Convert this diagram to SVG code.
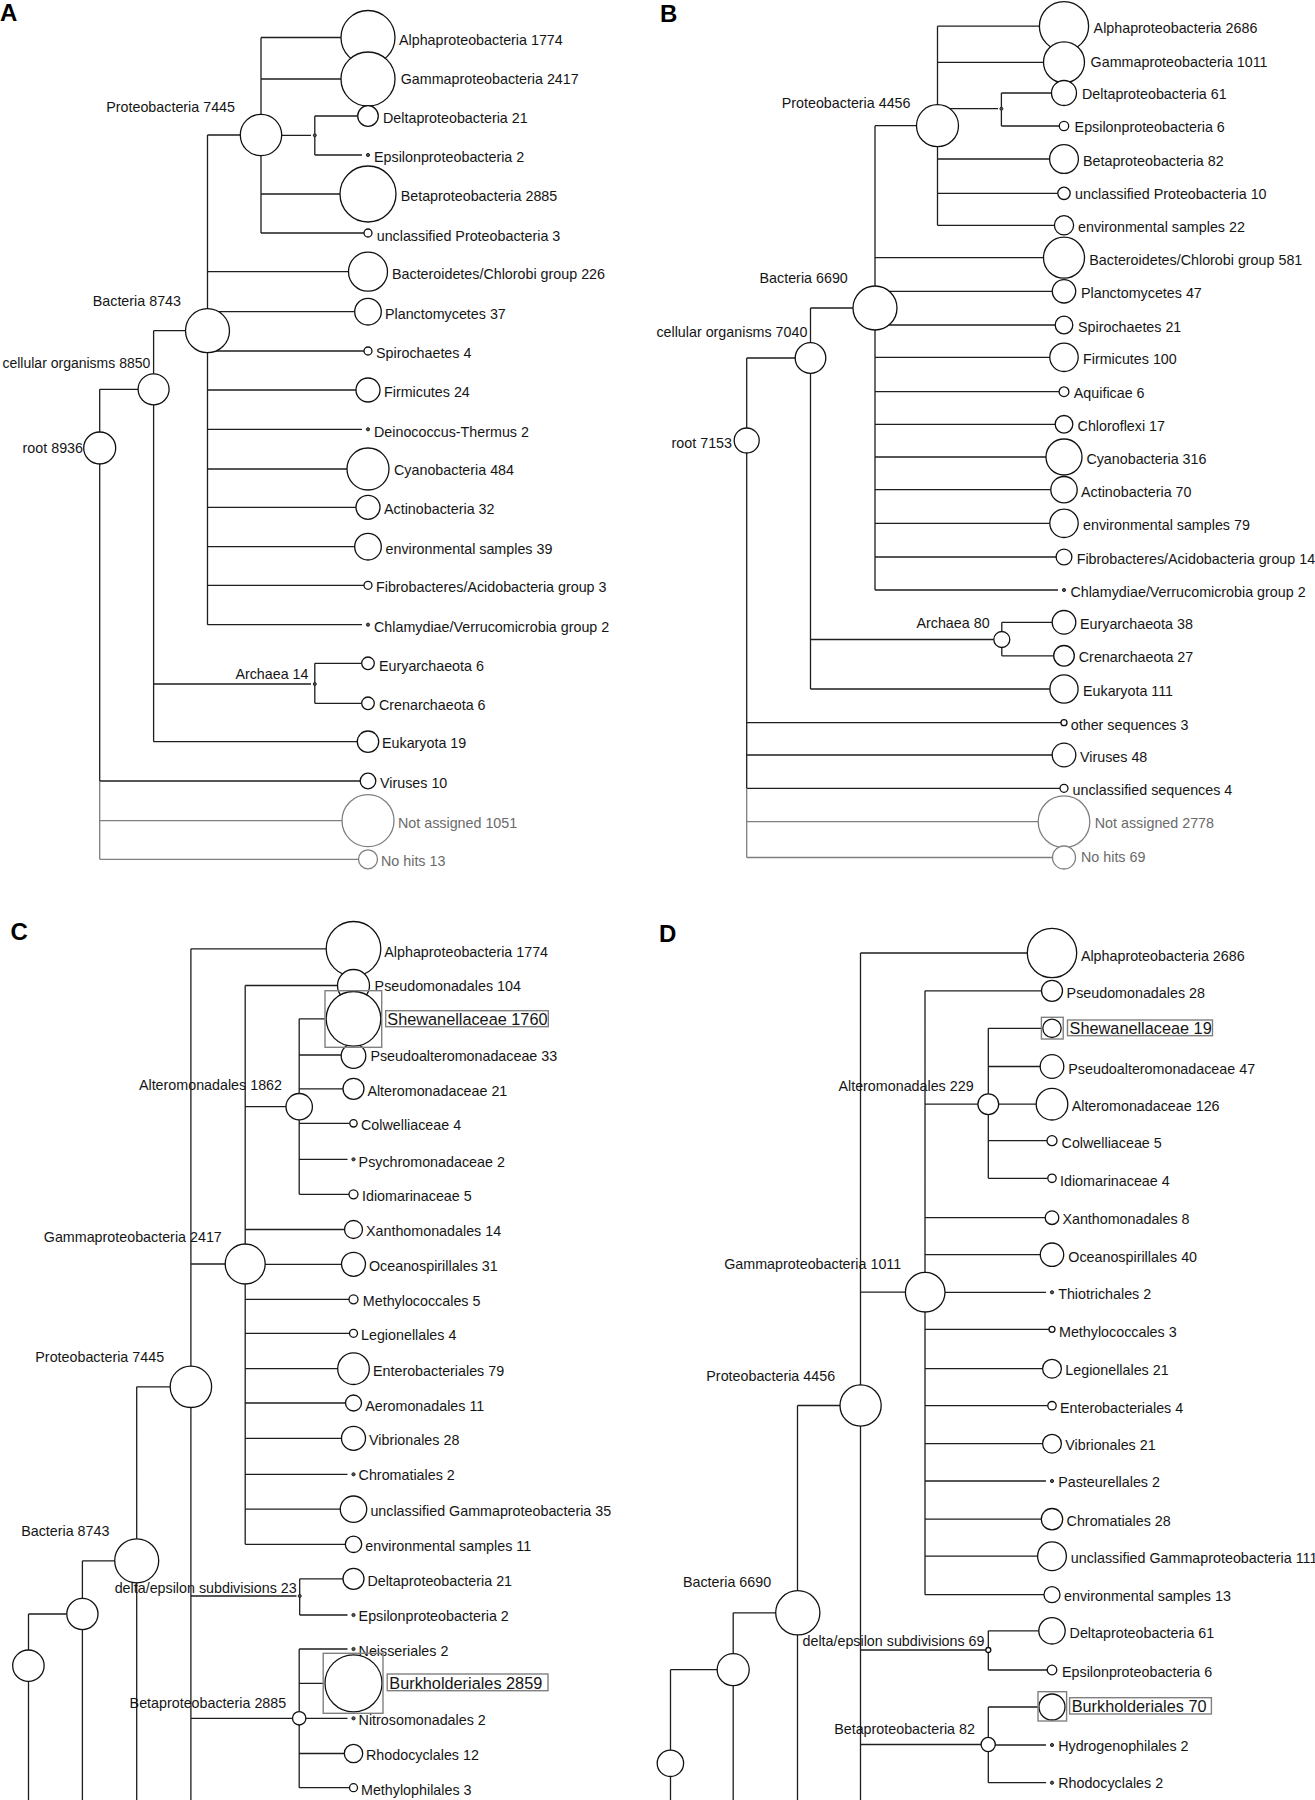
<svg xmlns="http://www.w3.org/2000/svg" width="1315" height="1800" viewBox="0 0 1315 1800">
<style>
.ln{fill:none;stroke:#1e1e1e;stroke-width:1.3}
.lg{fill:none;stroke:#7f7f7f;stroke-width:1.3}
circle{fill:#fff;stroke:#111;stroke-width:1.3}
circle.g{stroke:#7f7f7f}
circle.d{fill:#555;stroke:#222;stroke-width:1}
text{font-family:"Liberation Sans",Arial,sans-serif;font-size:14.3px;fill:#151515}
text.g{fill:#6a6a6a}
text.e{text-anchor:end}
text.s{font-size:14px}
text.big{font-size:16.3px}
text.p{font-size:24px;font-weight:bold;fill:#000}
rect.bx{fill:none;stroke:#808080;stroke-width:1.4}
</style>
<rect width="1315" height="1800" fill="#fff"/>
<g id="panel-labels">
<text class="p" x="0" y="21">A</text>
<text class="p" x="660" y="21.5">B</text>
<text class="p" x="10.5" y="940">C</text>
<text class="p" x="659" y="941.5">D</text>
</g>
<g id="connectors">
<path class="ln" d="M261,37.5V233 M261,37.5H341 M261,79H341 M261,194H340 M261,233H364 M261,135.3H311 M314.8,116V155 M314.8,116H357.7 M314.8,155H362 M207.5,135V624.7 M207.5,135H240.3 M207.5,271.7H348.5 M207.5,311.7H354.7 M207.5,351H364 M207.5,390H356 M207.5,429.3H362 M207.5,469H347 M207.5,507.3H356 M207.5,546.7H354.7 M207.5,585.3H364 M207.5,624.7H362 M153.6,330.7V741.7 M153.6,330.7H185.5 M153.6,684H311 M153.6,741.7H357.3 M314.8,663.3V703.3 M314.8,663.3H361.7 M314.8,703.3H361.7 M99.7,389.3V781 M99.7,389.3H138.1 M99.7,781H360.2"/>
<path class="lg" d="M99.7,781V859.3 M99.7,820.7H342 M99.7,859.3H358.5"/>
<path class="ln" d="M937.5,26.2V225.3 M937.5,26.2H1039.4 M937.5,62.3H1043.5 M937.5,159H1049.6 M937.5,193.3H1057.8 M937.5,225.3H1054.4 M937.5,108.7H998 M1001.4,93V126 M1001.4,93H1051.5 M1001.4,126H1059.3 M875,125.7V590 M875,125.7H916.5 M875,257.7H1043.5 M875,291.3H1052.3 M875,325H1055.2 M875,357.3H1049.8 M875,391.7H1059.1 M875,424.3H1055.2 M875,457H1046 M875,489.7H1050.8 M875,523.3H1049.8 M875,557H1056.1 M875,590H1058 M810.5,308V689 M810.5,308H853 M810.5,639.5H993.8 M810.5,689H1049.9 M1001.8,622.3V655.8 M1001.8,622.3H1052.2 M1001.8,655.8H1053.7 M746.7,358V788.3 M746.7,358H795.2 M746.7,722.7H1061 M746.7,755H1052.2 M746.7,788.3H1060"/>
<path class="lg" d="M746.7,788.3V857.5 M746.7,821.7H1038.2 M746.7,857.5H1052.5"/>
<path class="ln" d="M190.9,948.8V1800 M190.9,948.8H326.2 M190.9,1264H225.2 M190.9,1596H296.5 M190.9,1718.3H292.5 M245.2,985.5V1544.3 M245.2,985.5H337.5 M245.2,1106.7H286 M245.2,1229.5H344.5 M245.2,1264.3H341.5 M245.2,1299.3H349 M245.2,1333.3H349.5 M245.2,1368.7H337.7 M245.2,1403H345.5 M245.2,1438.3H341.5 M245.2,1474.3H347.5 M245.2,1509.2H340.3 M245.2,1544.3H345.3 M299.2,1018.8V1194.3 M299.2,1018.8H325 M299.2,1055H341 M299.2,1088.8H343 M299.2,1123.3H349.8 M299.2,1159.3H347.5 M299.2,1194.3H349 M299.7,1578.8V1615 M299.7,1578.8H343 M299.7,1615H347.5 M299.2,1649V1787.7 M299.2,1649H347.5 M299.2,1683.3H323.2 M299.2,1718.3H347.5 M299.2,1753.5H344.3 M299.2,1787.7H349.5 M136.7,1386.8V1800 M136.7,1386.8H170.4 M82.4,1560.8V1800 M82.4,1560.8H114.6 M28.5,1614V1800 M28.5,1614H66.7"/>
<path class="ln" d="M860.5,953V1800 M860.5,953H1027.3 M860.5,1292.2H905.4 M860.5,1650H985.8 M860.5,1744.5H981.1 M925,990.8V1594.7 M925,990.8H1041.5 M925,1104.2H977.9 M925,1217.7H1045.2 M925,1254.7H1040.3 M925,1292.3H1046 M925,1329.3H1049 M925,1368.7H1042.6 M925,1405.7H1047.8 M925,1443.7H1042.6 M925,1481H1046 M925,1519.2H1041.3 M925,1556.2H1037.6 M925,1594.7H1044 M988.3,1028.3V1178.3 M988.3,1028.3H1041.4 M988.3,1066.5H1040.2 M988.3,1104.2H1036.2 M988.3,1140.7H1047 M988.3,1178.3H1047.8 M988.3,1630.8V1670 M988.3,1630.8H1038.8 M988.3,1670H1047.2 M988.3,1707V1782.7 M988.3,1707H1038 M988.3,1745H1046 M988.3,1782.7H1046 M797.5,1405.5V1800 M797.5,1405.5H840 M733.2,1612.8V1800 M733.2,1612.8H775.7 M670.5,1669.7V1800 M670.5,1669.7H717.2"/>
</g>
<g id="panel-a">
<g id="a-root"><circle cx="99.7" cy="448" r="16"/><text class="e" x="83" y="453">root 8936</text></g>
<g id="a-cellular"><circle cx="153.6" cy="389.3" r="15.5"/><text class="e s" x="150.3" y="368.3">cellular organisms 8850</text></g>
<g id="a-bacteria"><circle cx="207.5" cy="330.7" r="22"/><text class="e" x="181" y="306">Bacteria 8743</text></g>
<g id="a-proteo"><circle cx="261" cy="135" r="20.7"/><text class="e" x="235" y="111.7">Proteobacteria 7445</text></g>
<g id="a-deltaeps"><circle class="d" cx="314.8" cy="135.3" r="1.5"/></g>
<g id="a-archaea"><circle class="d" cx="314.8" cy="684" r="1.5"/><text class="e" x="308.5" y="679.3">Archaea 14</text></g>
<g id="a-alpha"><circle cx="368" cy="37.5" r="27"/><text x="399" y="45">Alphaproteobacteria 1774</text></g>
<g id="a-gamma"><circle cx="368" cy="79" r="27"/><text x="400.7" y="84">Gammaproteobacteria 2417</text></g>
<g id="a-delta"><circle cx="368" cy="116" r="10.3"/><text x="383" y="122.7">Deltaproteobacteria 21</text></g>
<g id="a-epsilon"><circle class="d" cx="368" cy="155" r="1.6"/><text x="374" y="162.3">Epsilonproteobacteria 2</text></g>
<g id="a-beta"><circle cx="368" cy="194" r="28"/><text x="400.7" y="201">Betaproteobacteria 2885</text></g>
<g id="a-unclproteo"><circle cx="368" cy="233" r="4"/><text x="376.7" y="240.7">unclassified Proteobacteria 3</text></g>
<g id="a-bactero"><circle cx="368" cy="271.7" r="19.5"/><text x="392" y="279">Bacteroidetes/Chlorobi group 226</text></g>
<g id="a-plancto"><circle cx="368" cy="311.7" r="13.3"/><text x="385" y="318.7">Planctomycetes 37</text></g>
<g id="a-spiro"><circle cx="368" cy="351" r="4"/><text x="376" y="357.7">Spirochaetes 4</text></g>
<g id="a-firmi"><circle cx="368" cy="390" r="12"/><text x="384" y="396.7">Firmicutes 24</text></g>
<g id="a-deino"><circle class="d" cx="368" cy="429.3" r="1.6"/><text x="374" y="436.7">Deinococcus-Thermus 2</text></g>
<g id="a-cyano"><circle cx="368" cy="469" r="21"/><text x="394" y="475">Cyanobacteria 484</text></g>
<g id="a-actino"><circle cx="368" cy="507.3" r="12"/><text x="384" y="514.3">Actinobacteria 32</text></g>
<g id="a-env"><circle cx="368" cy="546.7" r="13.3"/><text x="385.5" y="554">environmental samples 39</text></g>
<g id="a-fibro"><circle cx="368" cy="585.3" r="4"/><text x="376" y="592.3">Fibrobacteres/Acidobacteria group 3</text></g>
<g id="a-chlamy"><circle class="d" cx="368" cy="624.7" r="1.6"/><text x="374" y="632">Chlamydiae/Verrucomicrobia group 2</text></g>
<g id="a-eury"><circle cx="368" cy="663.3" r="6.3"/><text x="379" y="670.7">Euryarchaeota 6</text></g>
<g id="a-cren"><circle cx="368" cy="703.3" r="6.3"/><text x="379" y="710">Crenarchaeota 6</text></g>
<g id="a-euk"><circle cx="368" cy="741.7" r="10.7"/><text x="382" y="748.3">Eukaryota 19</text></g>
<g id="a-viruses"><circle cx="368" cy="781" r="7.8"/><text x="380" y="787.7">Viruses 10</text></g>
<g id="a-notassigned"><circle class="g" cx="368" cy="820.7" r="26"/><text class="g" x="398" y="827.7">Not assigned 1051</text></g>
<g id="a-nohits"><circle class="g" cx="368" cy="859.3" r="9.5"/><text class="g" x="381" y="866">No hits 13</text></g>
</g>
<g id="panel-b">
<g id="b-root"><circle cx="746.7" cy="440.5" r="12.5"/><text class="e" x="732" y="448.3">root 7153</text></g>
<g id="b-cellular"><circle cx="810.5" cy="358" r="15.3"/><text class="e" x="807.4" y="337.3">cellular organisms 7040</text></g>
<g id="b-bacteria"><circle cx="875" cy="308" r="22"/><text class="e" x="847.8" y="282.7">Bacteria 6690</text></g>
<g id="b-proteo"><circle cx="937.5" cy="125.7" r="21"/><text class="e" x="910.5" y="108.3">Proteobacteria 4456</text></g>
<g id="b-deltaeps"><circle class="d" cx="1001.4" cy="108.7" r="1.5"/></g>
<g id="b-archaea"><circle cx="1001.8" cy="639.5" r="8"/><text class="e" x="989.6" y="628">Archaea 80</text></g>
<g id="b-alpha"><circle cx="1064" cy="26.2" r="24.6"/><text x="1093.6" y="33.3">Alphaproteobacteria 2686</text></g>
<g id="b-gamma"><circle cx="1064" cy="62.3" r="20.5"/><text x="1090.6" y="66.7">Gammaproteobacteria 1011</text></g>
<g id="b-delta"><circle cx="1064" cy="93" r="12.5"/><text x="1082" y="99.3">Deltaproteobacteria 61</text></g>
<g id="b-epsilon"><circle cx="1064" cy="126" r="4.7"/><text x="1074.6" y="132.3">Epsilonproteobacteria 6</text></g>
<g id="b-beta"><circle cx="1064" cy="159" r="14.4"/><text x="1083" y="166">Betaproteobacteria 82</text></g>
<g id="b-unclproteo"><circle cx="1064" cy="193.3" r="6.2"/><text x="1075" y="199">unclassified Proteobacteria 10</text></g>
<g id="b-env22"><circle cx="1064" cy="225.3" r="9.6"/><text x="1078" y="231.7">environmental samples 22</text></g>
<g id="b-bactero"><circle cx="1064" cy="257.7" r="20.5"/><text x="1089.3" y="265">Bacteroidetes/Chlorobi group 581</text></g>
<g id="b-plancto"><circle cx="1064" cy="291.3" r="11.7"/><text x="1081" y="298.3">Planctomycetes 47</text></g>
<g id="b-spiro"><circle cx="1064" cy="325" r="8.8"/><text x="1078" y="331.7">Spirochaetes 21</text></g>
<g id="b-firmi"><circle cx="1064" cy="357.3" r="14.2"/><text x="1083" y="364">Firmicutes 100</text></g>
<g id="b-aquif"><circle cx="1064" cy="391.7" r="4.9"/><text x="1073.8" y="397.7">Aquificae 6</text></g>
<g id="b-chloro"><circle cx="1064" cy="424.3" r="8.8"/><text x="1077.6" y="431">Chloroflexi 17</text></g>
<g id="b-cyano"><circle cx="1064" cy="457" r="18"/><text x="1086.4" y="464.3">Cyanobacteria 316</text></g>
<g id="b-actino"><circle cx="1064" cy="489.7" r="13.2"/><text x="1081" y="496.7">Actinobacteria 70</text></g>
<g id="b-env79"><circle cx="1064" cy="523.3" r="14.2"/><text x="1083" y="530">environmental samples 79</text></g>
<g id="b-fibro"><circle cx="1064" cy="557" r="7.9"/><text x="1076.7" y="563.7">Fibrobacteres/Acidobacteria group 14</text></g>
<g id="b-chlamy"><circle class="d" cx="1064" cy="590" r="1.6"/><text x="1070.4" y="597.3">Chlamydiae/Verrucomicrobia group 2</text></g>
<g id="b-eury"><circle cx="1064" cy="622.3" r="11.8"/><text x="1080" y="629">Euryarchaeota 38</text></g>
<g id="b-cren"><circle cx="1064" cy="655.8" r="10.3"/><text x="1078.8" y="662.3">Crenarchaeota 27</text></g>
<g id="b-euk"><circle cx="1064" cy="689" r="14.1"/><text x="1083" y="696">Eukaryota 111</text></g>
<g id="b-otherseq"><circle cx="1064" cy="722.7" r="3"/><text x="1070.8" y="729.7">other sequences 3</text></g>
<g id="b-viruses"><circle cx="1064" cy="755" r="11.8"/><text x="1080" y="761.7">Viruses 48</text></g>
<g id="b-unclseq"><circle cx="1064" cy="788.3" r="4"/><text x="1072.5" y="795">unclassified sequences 4</text></g>
<g id="b-notassigned"><circle class="g" cx="1064" cy="821.7" r="25.8"/><text class="g" x="1094.8" y="828.3">Not assigned 2778</text></g>
<g id="b-nohits"><circle class="g" cx="1064" cy="857.5" r="11.5"/><text class="g" x="1081" y="861.7">No hits 69</text></g>
</g>
<g id="panel-c">
<g id="c-root"><circle cx="28.4" cy="1665.7" r="15.7"/></g>
<g id="c-cellular"><circle cx="82.4" cy="1614" r="15.6"/></g>
<g id="c-bacteria"><circle cx="136.7" cy="1560.8" r="22"/><text class="e" x="109.4" y="1535.7">Bacteria 8743</text></g>
<g id="c-proteo"><circle cx="190.9" cy="1386.8" r="20.7"/><text class="e" x="164.1" y="1362.3">Proteobacteria 7445</text></g>
<g id="c-gamma"><circle cx="245.2" cy="1264" r="20"/><text class="e" x="221.8" y="1241.7">Gammaproteobacteria 2417</text></g>
<g id="c-altero"><circle cx="299.2" cy="1106.7" r="13.2"/><text class="e" x="282" y="1090">Alteromonadales 1862</text></g>
<g id="c-deltaeps"><circle class="d" cx="299.7" cy="1596" r="1.5"/><text class="e" x="296.7" y="1592.7">delta/epsilon subdivisions 23</text></g>
<g id="c-beta"><circle cx="299.2" cy="1718.3" r="6.7"/><text class="e" x="286.2" y="1708.3">Betaproteobacteria 2885</text></g>
<g id="c-alpha"><circle cx="353.5" cy="948.8" r="27.3"/><text x="384.3" y="956.7">Alphaproteobacteria 1774</text></g>
<g id="c-pseudomon"><circle cx="353.5" cy="985.5" r="16"/><text x="374.6" y="991">Pseudomonadales 104</text></g>
<g id="c-pseudoalt"><circle cx="353.5" cy="1056" r="12.3"/><text x="370.4" y="1060.7">Pseudoalteromonadaceae 33</text></g>
<g id="c-shewan"><circle cx="353.5" cy="1018.8" r="27.3"/><rect class="bx" x="325" y="990.7" width="56.7" height="56.6"/><rect class="bx" x="385.7" y="1010.7" width="162.6" height="16"/><text class="big" x="387.3" y="1024.8">Shewanellaceae 1760</text></g>
<g id="c-alteroceae"><circle cx="353.5" cy="1088.8" r="10.5"/><text x="367.4" y="1095.7">Alteromonadaceae 21</text></g>
<g id="c-colwell"><circle cx="353.5" cy="1123.3" r="3.7"/><text x="361" y="1130.3">Colwelliaceae 4</text></g>
<g id="c-psychro"><circle class="d" cx="353.5" cy="1159.3" r="1.6"/><text x="358.6" y="1166.7">Psychromonadaceae 2</text></g>
<g id="c-idiomar"><circle cx="353.5" cy="1194.3" r="4.5"/><text x="362" y="1201">Idiomarinaceae 5</text></g>
<g id="c-xantho"><circle cx="353.5" cy="1229.5" r="9"/><text x="366" y="1236">Xanthomonadales 14</text></g>
<g id="c-oceano"><circle cx="353.5" cy="1264.3" r="12"/><text x="369" y="1271">Oceanospirillales 31</text></g>
<g id="c-methylococ"><circle cx="353.5" cy="1299.3" r="4.5"/><text x="362.8" y="1306">Methylococcales 5</text></g>
<g id="c-legion"><circle cx="353.5" cy="1333.3" r="4"/><text x="361" y="1340">Legionellales 4</text></g>
<g id="c-entero"><circle cx="353.5" cy="1368.7" r="15.8"/><text x="373" y="1375.7">Enterobacteriales 79</text></g>
<g id="c-aeromon"><circle cx="353.5" cy="1403" r="8"/><text x="365.3" y="1410.7">Aeromonadales 11</text></g>
<g id="c-vibrio"><circle cx="353.5" cy="1438.3" r="12"/><text x="369" y="1445">Vibrionales 28</text></g>
<g id="c-chroma"><circle class="d" cx="353.5" cy="1474.3" r="1.6"/><text x="358.6" y="1480">Chromatiales 2</text></g>
<g id="c-unclgamma"><circle cx="353.5" cy="1509.2" r="13.2"/><text x="370.4" y="1516">unclassified Gammaproteobacteria 35</text></g>
<g id="c-env11"><circle cx="353.5" cy="1544.3" r="8.2"/><text x="365.3" y="1551">environmental samples 11</text></g>
<g id="c-delta"><circle cx="353.5" cy="1578.8" r="10.5"/><text x="367.4" y="1585.7">Deltaproteobacteria 21</text></g>
<g id="c-epsilon"><circle class="d" cx="353.5" cy="1615" r="1.6"/><text x="358.6" y="1620.7">Epsilonproteobacteria 2</text></g>
<g id="c-neiss"><circle class="d" cx="353.5" cy="1649" r="1.6"/><text x="358.6" y="1655.7">Neisseriales 2</text></g>
<g id="c-burk"><circle cx="353.5" cy="1683.3" r="28.5"/><rect class="bx" x="323.2" y="1653.3" width="59.8" height="60"/><rect class="bx" x="387.2" y="1674" width="160.8" height="16.7"/><text class="big" x="389.3" y="1688.8">Burkholderiales 2859</text></g>
<g id="c-nitroso"><circle class="d" cx="353.5" cy="1718.3" r="1.6"/><text x="358.6" y="1725">Nitrosomonadales 2</text></g>
<g id="c-rhodo"><circle cx="353.5" cy="1753.5" r="9.2"/><text x="366" y="1760">Rhodocyclales 12</text></g>
<g id="c-methylophil"><circle cx="353.5" cy="1787.7" r="4"/><text x="361" y="1795">Methylophilales 3</text></g>
</g>
<g id="panel-d">
<g id="d-root"><circle cx="670.4" cy="1763.3" r="13.2"/></g>
<g id="d-cellular"><circle cx="733.2" cy="1669.7" r="16"/></g>
<g id="d-bacteria"><circle cx="797.8" cy="1612.8" r="22.1"/><text class="e" x="771.2" y="1587.3">Bacteria 6690</text></g>
<g id="d-proteo"><circle cx="860.6" cy="1405.5" r="20.6"/><text class="e" x="835.1" y="1381">Proteobacteria 4456</text></g>
<g id="d-gamma"><circle cx="925.2" cy="1292.2" r="19.8"/><text class="e" x="901.2" y="1269.3">Gammaproteobacteria 1011</text></g>
<g id="d-altero"><circle cx="988.3" cy="1104.2" r="10.4"/><text class="e" x="973.6" y="1090.7">Alteromonadales 229</text></g>
<g id="d-deltaeps"><circle cx="988.3" cy="1650" r="2.5"/><text class="e" x="984.5" y="1645.7">delta/epsilon subdivisions 69</text></g>
<g id="d-beta"><circle cx="988.2" cy="1744.5" r="7.1"/><text class="e" x="974.9" y="1734">Betaproteobacteria 82</text></g>
<g id="d-alpha"><circle cx="1052" cy="953" r="24.7"/><text x="1080.9" y="960.7">Alphaproteobacteria 2686</text></g>
<g id="d-pseudomon"><circle cx="1052" cy="990.8" r="10.5"/><text x="1066.6" y="997.7">Pseudomonadales 28</text></g>
<g id="d-shewan"><circle cx="1052" cy="1028.3" r="9.2"/><rect class="bx" x="1041.4" y="1017.3" width="21.8" height="21.7"/><rect class="bx" x="1067.5" y="1020" width="145" height="15.7"/><text class="big" x="1069.6" y="1034">Shewanellaceae 19</text></g>
<g id="d-pseudoalt"><circle cx="1052" cy="1066.5" r="11.8"/><text x="1068.3" y="1074">Pseudoalteromonadaceae 47</text></g>
<g id="d-alteroceae"><circle cx="1052" cy="1104.2" r="15.8"/><text x="1071.7" y="1111">Alteromonadaceae 126</text></g>
<g id="d-colwell"><circle cx="1052" cy="1140.7" r="5"/><text x="1061.6" y="1148.3">Colwelliaceae 5</text></g>
<g id="d-idiomar"><circle cx="1052" cy="1178.3" r="4.2"/><text x="1060" y="1185.7">Idiomarinaceae 4</text></g>
<g id="d-xantho"><circle cx="1052" cy="1217.7" r="6.8"/><text x="1062.4" y="1224.3">Xanthomonadales 8</text></g>
<g id="d-oceano"><circle cx="1052" cy="1254.7" r="11.7"/><text x="1068.3" y="1261.7">Oceanospirillales 40</text></g>
<g id="d-thiotrich"><circle class="d" cx="1052" cy="1292.3" r="1.6"/><text x="1058.2" y="1299">Thiotrichales 2</text></g>
<g id="d-methylococ"><circle cx="1052" cy="1329.3" r="3"/><text x="1059" y="1336.7">Methylococcales 3</text></g>
<g id="d-legion"><circle cx="1052" cy="1368.7" r="9.4"/><text x="1065.3" y="1375">Legionellales 21</text></g>
<g id="d-entero"><circle cx="1052" cy="1405.7" r="4.2"/><text x="1060" y="1412.7">Enterobacteriales 4</text></g>
<g id="d-vibrio"><circle cx="1052" cy="1443.7" r="9.4"/><text x="1065.3" y="1450">Vibrionales 21</text></g>
<g id="d-pasteur"><circle class="d" cx="1052" cy="1481" r="1.6"/><text x="1058.2" y="1487.3">Pasteurellales 2</text></g>
<g id="d-chroma"><circle cx="1052" cy="1519.2" r="10.7"/><text x="1066.6" y="1525.7">Chromatiales 28</text></g>
<g id="d-unclgamma"><circle cx="1052" cy="1556.2" r="14.4"/><text x="1070.8" y="1563.3">unclassified Gammaproteobacteria 111</text></g>
<g id="d-env13"><circle cx="1052" cy="1594.7" r="8"/><text x="1064" y="1600.7">environmental samples 13</text></g>
<g id="d-delta"><circle cx="1052" cy="1630.8" r="13.2"/><text x="1069.6" y="1637.7">Deltaproteobacteria 61</text></g>
<g id="d-epsilon"><circle cx="1052" cy="1670" r="4.8"/><text x="1062" y="1676.7">Epsilonproteobacteria 6</text></g>
<g id="d-burk"><circle cx="1052" cy="1707" r="13"/><rect class="bx" x="1038" y="1691.7" width="28.6" height="29.3"/><rect class="bx" x="1069.6" y="1697.7" width="141.8" height="16.3"/><text class="big" x="1071.7" y="1712">Burkholderiales 70</text></g>
<g id="d-hydrogeno"><circle class="d" cx="1052" cy="1745" r="1.6"/><text x="1058.2" y="1751">Hydrogenophilales 2</text></g>
<g id="d-rhodo"><circle class="d" cx="1052" cy="1782.7" r="1.6"/><text x="1058.2" y="1788.3">Rhodocyclales 2</text></g>
</g>
</svg>
